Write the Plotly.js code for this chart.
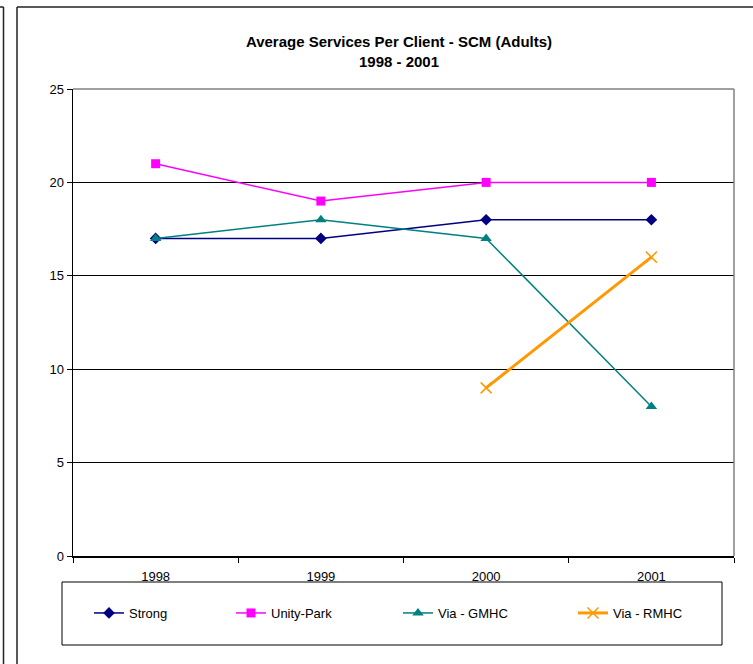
<!DOCTYPE html>
<html>
<head>
<meta charset="utf-8">
<script src="https://cdn.plot.ly/plotly-3.0.1.min.js"></script>
<style>html,body{margin:0;padding:0;background:#fff;}#chart{width:753px;height:664px;}</style>
</head>
<body>
<div id="chart"></div>
<script>
var years = ['1998', '1999', '2000', '2001'];
var strong = [17, 17, 18, 18];
var unityPark = [21, 19, 20, 20];
var viaGMHC = [17, 18, 17, 8];
var viaRMHC = [null, null, 9, 16];
var seriesNames = ['Strong', 'Unity-Park', 'Via - GMHC', 'Via - RMHC'];
var titleText = 'Average Services Per Client - SCM (Adults)<br>1998 - 2001';

var W = 753, H = 664;
var M = {l: 73, r: 19, t: 89, b: 108};
var PW = W - M.l - M.r, PH = H - M.t - M.b;
function px(x) { return (x - M.l) / PW; }
function py(y) { return (H - M.b - y) / PH; }

var font = 'Arial, "Liberation Sans", sans-serif';

var traces = [
  {x: years, y: strong, name: seriesNames[0], type: 'scatter', mode: 'lines+markers',
   line: {color: '#000080', width: 1.5}, marker: {symbol: 'diamond', size: 9, color: '#000080'}, legend: 'legend'},
  {x: years, y: unityPark, name: seriesNames[1], type: 'scatter', mode: 'lines+markers',
   line: {color: '#FF00FF', width: 1.5}, marker: {symbol: 'square', size: 9, color: '#FF00FF'}, legend: 'legend2'},
  {x: years, y: viaGMHC, name: seriesNames[2], type: 'scatter', mode: 'lines+markers',
   line: {color: '#008080', width: 1.5}, marker: {symbol: 'triangle-up', size: 10, color: '#008080'}, legend: 'legend3'},
  {x: years, y: viaRMHC, name: seriesNames[3], type: 'scatter', mode: 'lines+markers',
   line: {color: '#FF9900', width: 3}, marker: {symbol: 'x-thin-open', size: 11, color: '#FF9900', line: {color: '#FF9900', width: 1.5}}, legend: 'legend4'}
];

function leg(xStart) {
  return {orientation: 'h', x: px(xStart - 6), xanchor: 'left', y: py(613), yanchor: 'middle',
          bgcolor: 'rgba(0,0,0,0)', borderwidth: 0, font: {family: font, size: 13, color: '#000'}};
}

var shapes = [
  {type: 'line', xref: 'paper', yref: 'paper', x0: 0, x1: 1, y0: 1, y1: 1, line: {color: '#808080', width: 1.5}},
  {type: 'line', xref: 'paper', yref: 'paper', x0: 1, x1: 1, y0: 0, y1: 1, line: {color: '#808080', width: 1.5}},
  {type: 'rect', xref: 'paper', yref: 'paper', x0: px(62), x1: px(722), y0: py(645), y1: py(582), line: {color: '#000', width: 1}},
  {type: 'line', xref: 'paper', yref: 'paper', x0: px(17), x1: px(17), y0: py(7), y1: py(670), line: {color: '#222', width: 1.5}},
  {type: 'line', xref: 'paper', yref: 'paper', x0: px(17), x1: px(760), y0: py(7), y1: py(7), line: {color: '#222', width: 1.5}},
  {type: 'line', xref: 'paper', yref: 'paper', x0: px(3.5), x1: px(3.5), y0: py(7), y1: py(670), line: {color: '#222', width: 1.5}},
  {type: 'line', xref: 'paper', yref: 'paper', x0: px(-5), x1: px(3.5), y0: py(7), y1: py(7), line: {color: '#222', width: 1.5}}
];

var layout = {
  width: W, height: H,
  margin: M,
  paper_bgcolor: '#fff', plot_bgcolor: '#fff',
  font: {family: font, size: 13, color: '#000'},
  title: {text: titleText, font: {family: font, size: 15, color: '#000', weight: 'bold'},
          xref: 'container', x: 399 / W, xanchor: 'center', yref: 'container', y: 1 - 47 / H, yanchor: 'top'},
  showlegend: true,
  legend: leg(95), legend2: leg(237), legend3: leg(404), legend4: leg(579),
  xaxis: {type: 'category', range: [-0.5, 3.5], tickson: 'boundaries', ticks: 'outside', ticklen: 5,
          tickcolor: '#000', showgrid: false, showline: true, linecolor: '#000', linewidth: 1.5,
          ticklabelstandoff: 8,
          tickfont: {family: font, size: 13, color: '#000'}, fixedrange: true, zeroline: false},
  yaxis: {range: [0, 25], dtick: 5, tick0: 0, ticks: 'outside', ticklen: 5, tickcolor: '#000',
          showgrid: true, gridcolor: '#000', gridwidth: 1, showline: true, linecolor: '#000', linewidth: 1.5,
          zeroline: false, tickfont: {family: font, size: 13, color: '#000'}, fixedrange: true},
  shapes: shapes
};

Plotly.newPlot('chart', traces, layout, {staticPlot: true, displayModeBar: false});
</script>
</body>
</html>
